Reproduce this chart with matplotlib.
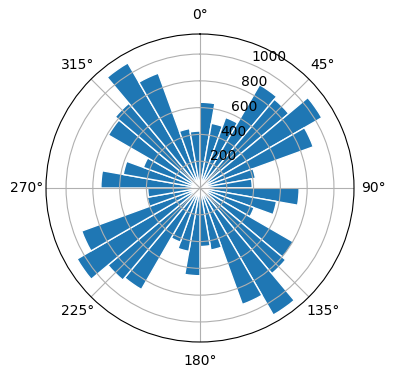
import numpy as np
import matplotlib
matplotlib.use("Agg")
import matplotlib.pyplot as plt

# direction bins (degrees, start of each 10 degree sector) and counts
bin_start = np.arange(0, 360, 10)
counts = [640, 490, 560, 890, 865, 1050, 900, 420, 390,
          740, 580, 430, 805, 835, 1095, 925, 470, 437,
          655, 480, 430, 875, 897, 1060, 940, 400, 390,
          740, 582, 450, 790, 826, 1078, 912, 450, 425]

theta = np.deg2rad(bin_start + 5)
width = np.deg2rad(10)

fig = plt.figure(figsize=(3.96, 3.8), dpi=100)
ax = fig.add_axes([46/396, 38/380, 308/396, 308/380], projection='polar')
ax.set_theta_zero_location('N')
ax.set_theta_direction(-1)
ax.bar(theta, counts, width=width, color='C0', edgecolor='white', linewidth=1)

fig.savefig('out.png', dpi=100)
